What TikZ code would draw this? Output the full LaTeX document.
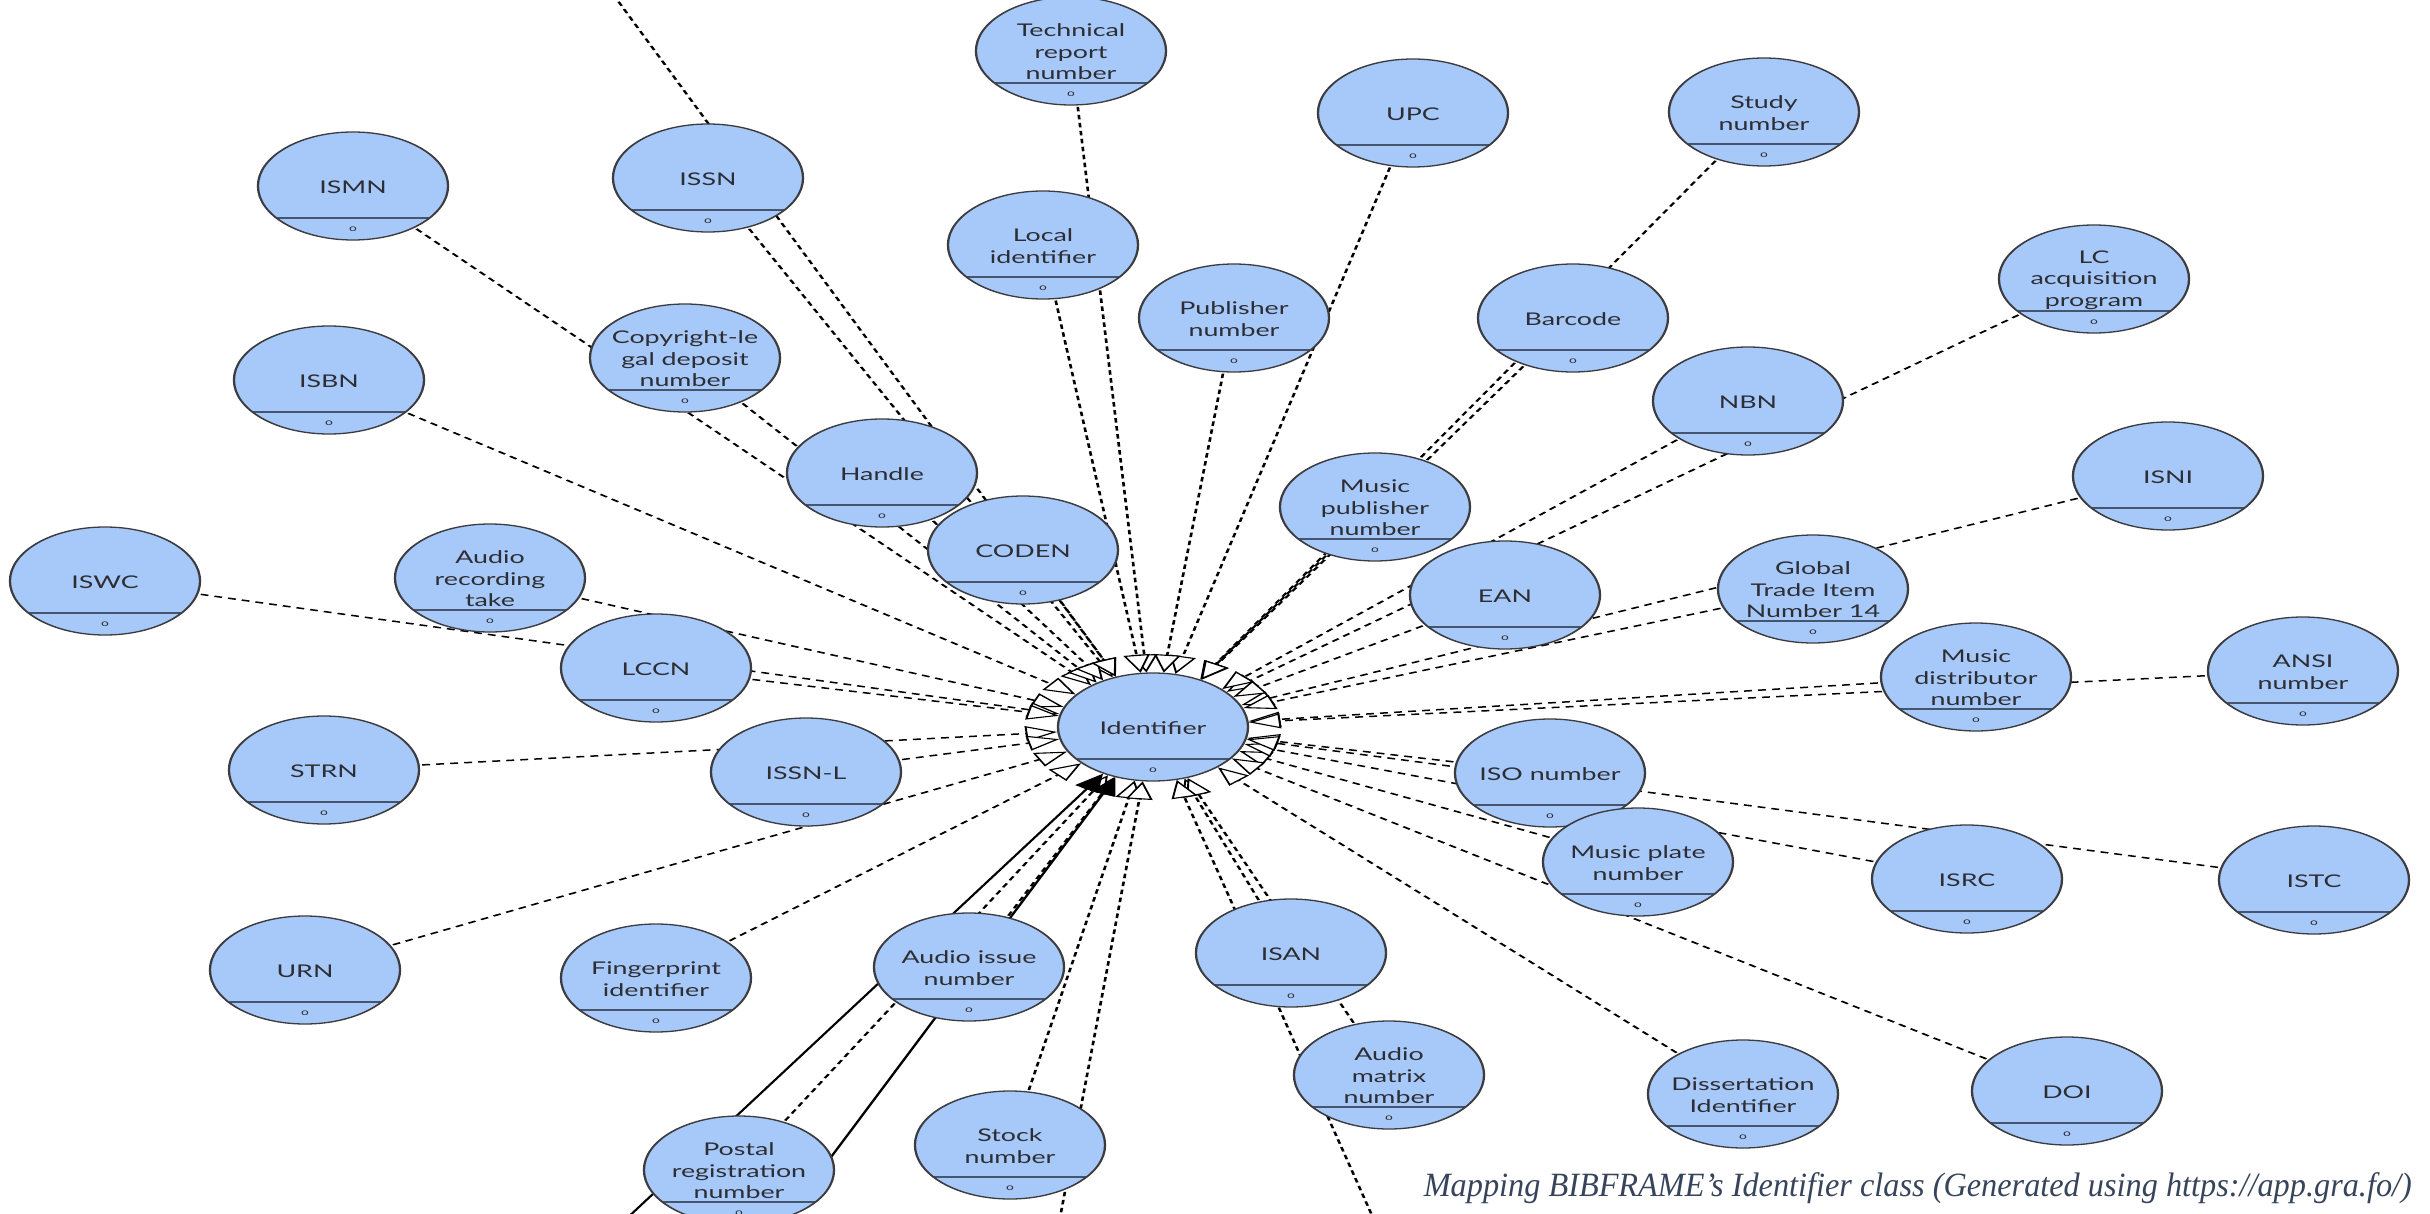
\documentclass[tikz,border=0pt]{standalone}
\usepackage{fontspec}
\usetikzlibrary{shapes.geometric, arrows.meta}
\newfontfamily\nodefont[FakeStretch=0.87]{Lato}
\newfontfamily\capfont[FakeStretch=0.95]{Liberation Serif}
\definecolor{nodefill}{RGB}{167,201,250}
\definecolor{bordercol}{RGB}{60,60,64}
\definecolor{sepcol}{RGB}{70,85,110}
\definecolor{textcol}{RGB}{45,45,52}
\definecolor{capcol}{RGB}{55,68,92}
\pgfdeclarelayer{bglayer}
\pgfdeclarelayer{edgelayer}
\pgfsetlayers{bglayer,edgelayer,main}
\tikzset{
  stretched/.style={transform canvas={xscale=1.76}, x=0.568182pt, y=-1pt},
  cls/.style={ellipse, draw=bordercol, line width=1.3pt, fill=nodefill,
    minimum width=108pt, minimum height=108pt, inner sep=0pt,
    path picture={
      \draw[sepcol, line width=1.2pt]
        ([yshift=-32pt]path picture bounding box.west) --
        ([yshift=-32pt]path picture bounding box.east);
      \node[font=\nodefont\fontsize{9}{9}\selectfont, text=textcol, inner sep=0pt]
        at ([yshift=-43pt]path picture bounding box.center) {o};
    }},
  lbl/.style={font=\nodefont\fontsize{17.5}{21.5}\selectfont, text=textcol,
    align=center, inner sep=0pt},
  rel/.style={draw=black, line width=1.5pt, dash pattern=on 4.5pt off 3.5pt,
    -{Triangle[length=18pt,width=15pt,fill=white,line width=1.1pt]}},
  subrel/.style={draw=black, line width=1.5pt,
    -{Triangle[length=18pt,width=15pt,fill=black,line width=1.1pt]}},
  captxt/.style={font=\capfont\itshape\fontsize{34}{38}\selectfont,
    text=capcol, inner sep=0pt, anchor=base east}
}
\newcommand\mknode[3]{%
  \node[cls] (#1) at (#2) {};
  \node[lbl] (#1t) at ([yshift=-1pt]#1.center) {#3};
}
\begin{document}
\begin{tikzpicture}[x=1pt, y=-1pt]
\begin{pgfonlayer}{bglayer}
  \fill[white] (0,0) rectangle (2430,1214);
\end{pgfonlayer}
\useasboundingbox (0,0) rectangle (2430,1214);

\begin{scope}[stretched]
\mknode{tech}{1071,51}{Technical\\report\\number}
\mknode{upc}{1413,113}{UPC}
\mknode{study}{1764,112}{Study\\number}
\mknode{ismn}{353,186}{ISMN}
\mknode{issn}{708,178}{ISSN}
\mknode{local}{1043,245}{Local\\identifier}
\mknode{lcacq}{2094,279}{LC\\acquisition\\program}
\mknode{pubnum}{1234,318}{Publisher\\number}
\mknode{barcode}{1573,318}{Barcode}
\mknode{isbn}{329,380}{ISBN}
\mknode{copyr}{685,358}{Copyright-le\\gal deposit\\number}
\mknode{nbn}{1748,401}{NBN}
\mknode{handle}{882,473}{Handle}
\mknode{isni}{2168,476}{ISNI}
\mknode{musicpub}{1375,507}{Music\\publisher\\number}
\mknode{coden}{1023,550}{CODEN}
\mknode{audiorec}{490,578}{Audio\\recording\\take}
\mknode{iswc}{105,581}{ISWC}
\mknode{ean}{1505,595}{EAN}
\mknode{gtin}{1813,589}{Global\\Trade Item\\Number 14}
\mknode{lccn}{656,668}{LCCN}
\mknode{musicdist}{1976,677}{Music\\distributor\\number}
\mknode{ansi}{2303,671}{ANSI\\number}
\mknode{strn}{324,770}{STRN}
\mknode{issnl}{806,772}{ISSN-L}
\mknode{iso}{1550,773}{ISO number}
\mknode{musicplate}{1638,862}{Music plate\\number}
\mknode{isrc}{1967,879}{ISRC}
\mknode{istc}{2314,880}{ISTC}
\mknode{urn}{305,970}{URN}
\mknode{finger}{656,978}{Fingerprint\\identifier}
\mknode{audioissue}{969,967}{Audio issue\\number}
\mknode{isan}{1291,953}{ISAN}
\mknode{audiomatrix}{1389,1075}{Audio\\matrix\\number}
\mknode{diss}{1743,1094}{Dissertation\\Identifier}
\mknode{doi}{2067,1091}{DOI}
\mknode{postal}{739,1170}{Postal\\registration\\number}
\mknode{stock}{1010,1145}{Stock\\number}
\mknode{id}{1153,727}{Identifier}

\coordinate (offTL) at (537,-109);
\coordinate (offS1) at (579,1263);
\coordinate (offS2) at (754,1260);
\coordinate (offB1) at (1052,1260);
\coordinate (offB2) at (1392,1260);
\end{scope}

\node[captxt] (caption) at (2412,1196)
  {Mapping BIBFRAME’s Identifier class (Generated using https://app.gra.fo/)};

\begin{pgfonlayer}{edgelayer}
\begin{scope}[stretched]
  \foreach \n in {tech,upc,study,ismn,issn,local,lcacq,pubnum,barcode,isbn,
      copyr,nbn,handle,isni,musicpub,coden,audiorec,iswc,ean,gtin,lccn,
      musicdist,ansi,strn,issnl,iso,musicplate,isrc,istc,urn,finger,
      audioissue,isan,audiomatrix,diss,doi,postal,stock}
    {\draw[rel] (\n.center) -- (id);}
  \draw[rel] (offTL) -- (id);
  \draw[rel] (offB1) -- (id);
  \draw[rel] (offB2) -- (id);
  \draw[subrel] (offS1) -- (id);
  \draw[subrel] (offS2) -- (id);
\end{scope}
\end{pgfonlayer}
\end{tikzpicture}
\end{document}
